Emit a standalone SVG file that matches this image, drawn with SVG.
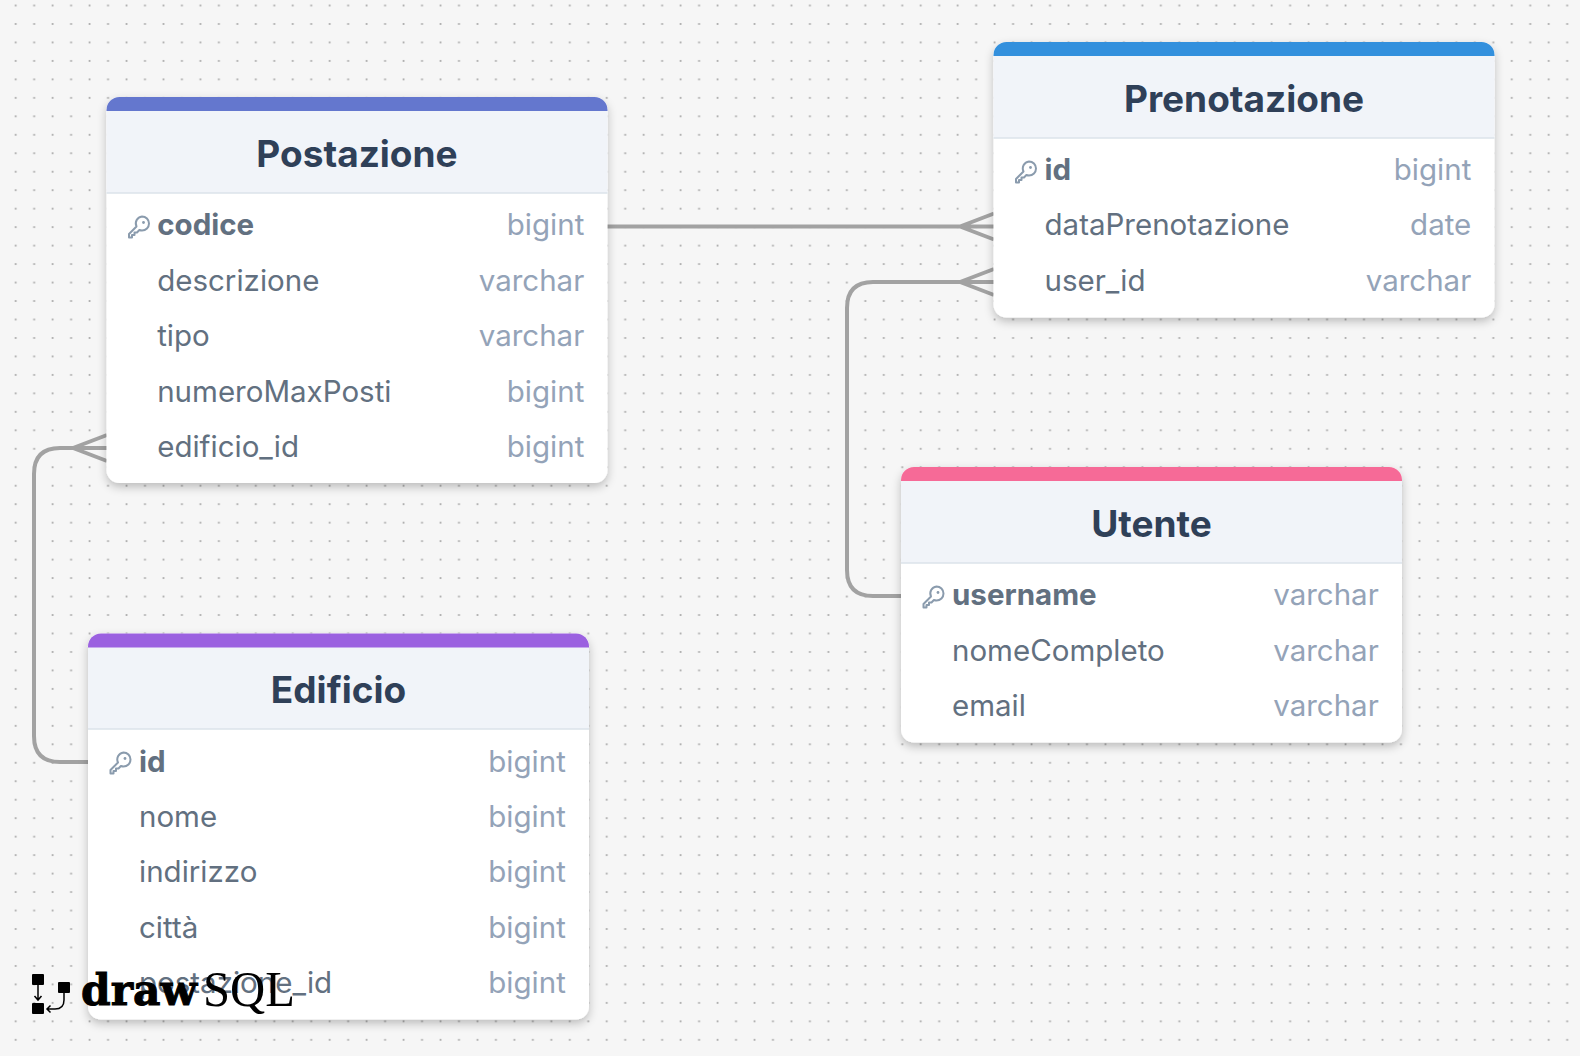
<svg xmlns="http://www.w3.org/2000/svg" width="1580" height="1056" viewBox="0 0 1580 1056">
<style>
text{font-family:Inter,"Noto Sans","Liberation Sans",sans-serif}
.card{fill:#fff;filter:url(#sh)}
.head{fill:#f1f4f9}
.line{stroke:#dbe3ea;stroke-width:1.5;fill:none}
.title{font-size:37px;font-weight:700;fill:#2f4058;text-anchor:middle}
.f{font-size:29.5px;fill:#627080}
.pk{font-weight:700}
.t{font-size:29.5px;fill:#94a3b8;text-anchor:end}
.conn{fill:none;stroke:#a2a2a2;stroke-width:4}
.key{fill:none;stroke:#8a9bad;stroke-width:2;stroke-linecap:round;stroke-linejoin:round}
</style>
<defs>
<pattern id="dots" width="18.47" height="18.47" patternUnits="userSpaceOnUse" x="6.4" y="5.5"><rect x="8.4" y="-0.9" width="1.8" height="1.8" fill="#aaa"/><rect x="8.4" y="17.57" width="1.8" height="1.8" fill="#aaa"/></pattern>
<filter id="sh" x="-6%" y="-6%" width="112%" height="118%"><feDropShadow dx="0" dy="4" stdDeviation="5" flood-color="#000" flood-opacity=".24"/></filter>
<symbol id="k" viewBox="0 0 24 24" overflow="visible"><path class="key" d="M14.500 1.500a7 7 0 0 1 0 14 7 7 0 0 1-2.600-.5L9.500 17.500H7v2.500H4.500v2.500H1.500V19l7.500-7.500a7 7 0 0 1 5.500-10z"/><circle cx="16" cy="7.500" r="1.400" fill="#8a9bad"/></symbol>
</defs>
<rect width="1580" height="1056" fill="#f6f6f6"/>
<rect width="1580" height="1056" fill="url(#dots)"/>
<g id="connectors">
<path class="conn" d="M607 226.500H994M960 226.500L994 213.500M960 226.500L994 239.500"/>
<path class="conn" d="M901 596H873Q847 596 847 570V308Q847 282 873 282H994M960 282L994 269M960 282L994 295"/>
<path class="conn" d="M88 762H60Q34 762 34 736V474Q34 448 60 448H107M73 448L107 435M73 448L107 461"/>
</g>
<g id="postazione">
<rect class="card" x="106.500" y="97" width="501" height="386" rx="13"/>
<path class="head" d="M106.500 108H607.500V193H106.500Z"/>
<path d="M106.500 111V110A13 13 0 0 1 119.500 97H594.500A13 13 0 0 1 607.500 110V111Z" fill="#6477ce"/>
<path class="line" d="M106.500 193H607.500"/>
<text class="title" x="357" y="167">Postazione</text>
<use href="#k" x="127.500" y="215" width="24" height="24"/>
<text class="f pk" x="157.200" y="235">codice</text><text class="t" x="584.300" y="235">bigint</text>
<text class="f" x="157.200" y="291">descrizione</text><text class="t" x="584.300" y="291">varchar</text>
<text class="f" x="157.200" y="346">tipo</text><text class="t" x="584.300" y="346">varchar</text>
<text class="f" x="157.200" y="402">numeroMaxPosti</text><text class="t" x="584.300" y="402">bigint</text>
<text class="f" x="157.200" y="457">edificio_id</text><text class="t" x="584.300" y="457">bigint</text>
</g>
<g id="prenotazione">
<rect class="card" x="993.500" y="42" width="501" height="275.500" rx="13"/>
<path class="head" d="M993.500 53H1494.500V138H993.500Z"/>
<path d="M993.500 56V55A13 13 0 0 1 1006.500 42H1481.500A13 13 0 0 1 1494.500 55V56Z" fill="#3390dd"/>
<path class="line" d="M993.500 138H1494.500"/>
<text class="title" x="1244" y="112">Prenotazione</text>
<use href="#k" x="1014.500" y="160" width="24" height="24"/>
<text class="f pk" x="1044.500" y="180">id</text><text class="t" x="1471.300" y="180">bigint</text>
<text class="f" x="1044.500" y="235">dataPrenotazione</text><text class="t" x="1471.300" y="235">date</text>
<text class="f" x="1044.500" y="291">user_id</text><text class="t" x="1471.300" y="291">varchar</text>
</g>
<g id="utente">
<rect class="card" x="901" y="467" width="501" height="275.500" rx="13"/>
<path class="head" d="M901 478H1402V563H901Z"/>
<path d="M901 481V480A13 13 0 0 1 914 467H1389A13 13 0 0 1 1402 480V481Z" fill="#f66a97"/>
<path class="line" d="M901 563H1402"/>
<text class="title" x="1151.500" y="537">Utente</text>
<use href="#k" x="922" y="585" width="24" height="24"/>
<text class="f pk" x="952" y="605">username</text><text class="t" x="1378.800" y="605">varchar</text>
<text class="f" x="952" y="661">nomeCompleto</text><text class="t" x="1378.800" y="661">varchar</text>
<text class="f" x="952" y="716">email</text><text class="t" x="1378.800" y="716">varchar</text>
</g>
<g id="edificio">
<rect class="card" x="88" y="633.500" width="501" height="386" rx="13"/>
<path class="head" d="M88 644H589V729H88Z"/>
<path d="M88 647.500V646.500A13 13 0 0 1 101 633.500H576A13 13 0 0 1 589 646.500V647.500Z" fill="#9b61e0"/>
<path class="line" d="M88 729H589"/>
<text class="title" x="338.500" y="703">Edificio</text>
<use href="#k" x="109" y="751" width="24" height="24"/>
<text class="f pk" x="139" y="772">id</text><text class="t" x="565.800" y="772">bigint</text>
<text class="f" x="139" y="827">nome</text><text class="t" x="565.800" y="827">bigint</text>
<text class="f" x="139" y="882">indirizzo</text><text class="t" x="565.800" y="882">bigint</text>
<text class="f" x="139" y="938">città</text><text class="t" x="565.800" y="938">bigint</text>
<text class="f" x="139" y="993">postazione_id</text><text class="t" x="565.800" y="993">bigint</text>
</g>
<g id="logo">
<rect x="32" y="974" width="12" height="11" rx="1"/><rect x="32" y="1003" width="12" height="11" rx="1"/><rect x="58" y="982" width="12" height="11" rx="1"/>
<path d="M38 985V1000M34.500 996L38 1000L41.500 996M64 993V1000Q64 1009 55 1009H47M50.500 1005.500L47 1009L50.500 1012.500" fill="none" stroke="#000" stroke-width="1.500"/>
<text x="81" y="1005" textLength="116" lengthAdjust="spacingAndGlyphs" style="font-family:'DejaVu Serif',serif;font-size:43px;font-weight:700" fill="#000" stroke="#000" stroke-width="1">draw</text>
<text x="203" y="1006" textLength="92" lengthAdjust="spacingAndGlyphs" style="font-family:'Liberation Serif',serif;font-size:50px" fill="#000">SQL</text>
</g>
</svg>
